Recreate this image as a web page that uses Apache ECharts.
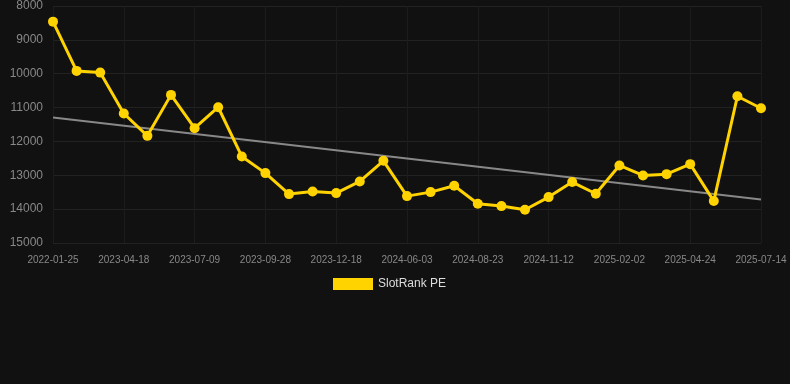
<!DOCTYPE html>
<html><head><meta charset="utf-8">
<script src="https://cdn.jsdelivr.net/npm/echarts@6/dist/echarts.min.js"></script>
<style>html,body{margin:0;padding:0;background:#111111;}#c{width:790px;height:384px;}</style>
</head><body><div id="c"></div>
<script>
var categories = ['2022-01-25','2022-02-21','2023-03-22','2023-04-18','2023-05-15','2023-06-12','2023-07-09','2023-08-05','2023-09-01','2023-09-28','2023-10-25','2023-11-21','2023-12-18','2024-01-14','2024-04-10','2024-06-03','2024-06-30','2024-07-27','2024-08-23','2024-09-19','2024-10-16','2024-11-12','2024-12-09','2025-01-05','2025-02-02','2025-03-01','2025-03-28','2025-04-24','2025-05-21','2025-06-17','2025-07-14'];
var values = [8462,9917,9967,11176,11835,10625,11609,10990,12444,12936,13556,13477,13526,13182,12572,13615,13497,13310,13841,13910,14018,13644,13200,13546,12710,13005,12966,12671,13762,10665,11019];
var trendStart = 11294;
var trendEnd = 13713;
var yTicks = [8000,9000,10000,11000,12000,13000,14000,15000];

var trend = values.map(function(v,i){ return i===0 ? trendStart : (i===values.length-1 ? trendEnd : null); });

var chart = echarts.init(document.getElementById('c'));
chart.setOption({
  backgroundColor:'#111111',
  animation:false,
  grid:{left:53,right:29,top:6,bottom:141},
  legend:{
    data:['SlotRank PE'], top:273, left:328,
    itemWidth:40,itemHeight:12,
    textStyle:{color:'#dddddd',fontSize:12,fontFamily:'Arial, Liberation Sans, sans-serif'},
    icon:'rect'
  },
  xAxis:{
    type:'category', data:categories, boundaryGap:false,
    axisLine:{show:false}, axisTick:{show:false},
    axisLabel:{color:'#888888',fontSize:10,interval:2,margin:12,fontFamily:'Arial, Liberation Sans, sans-serif'},
    splitLine:{show:true,interval:2,lineStyle:{color:'#1c1c1c',width:1}}
  },
  yAxis:{
    type:'value', inverse:true, min:yTicks[0], max:yTicks[yTicks.length-1], interval:1000,
    axisLine:{show:false}, axisTick:{show:false},
    axisLabel:{color:'#888888',fontSize:12,margin:10,fontFamily:'Arial, Liberation Sans, sans-serif',
      formatter:function(v){return String(v);}},
    splitLine:{lineStyle:{color:'#222222',width:1}}
  },
  series:[
    {name:'SlotRank PE',type:'line',data:values,
     itemStyle:{color:'#ffd300'},lineStyle:{color:'#ffd300',width:3},
     symbol:'circle',symbolSize:10,z:3},
    {name:'Trend',type:'line',data:trend,connectNulls:true,symbol:'none',
     lineStyle:{color:'#888888',width:2},z:2}
  ]
});
</script></body></html>
